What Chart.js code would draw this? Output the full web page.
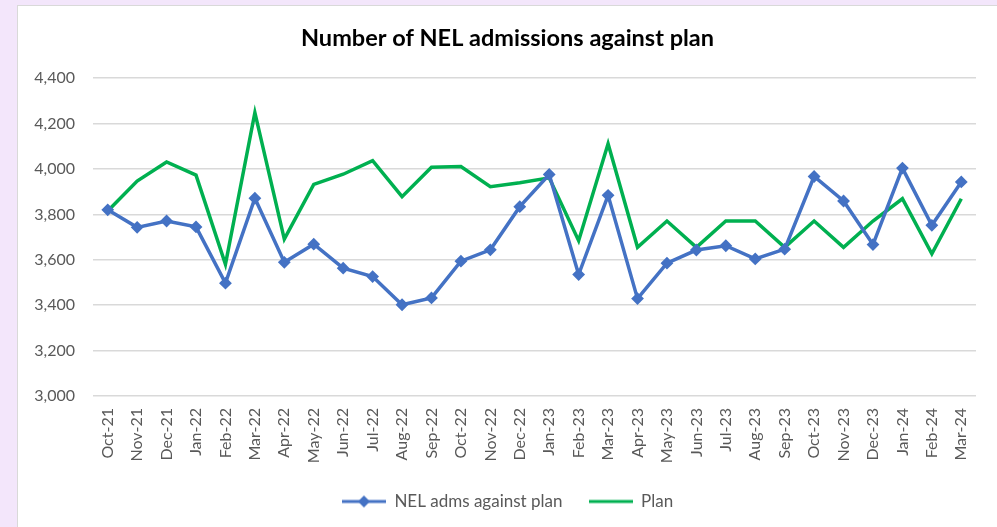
<!DOCTYPE html>
<html>
<head>
<meta charset="utf-8">
<script src="https://cdn.jsdelivr.net/npm/chart.js@4.4.0/dist/chart.umd.min.js"></script>
<style>
  html, body { margin: 0; padding: 0; background: #f3e6fb; }
  #frame {
    position: absolute; left: 17px; top: 5px;
    width: 980px; height: 522px;
    border-left: 1px solid #d9d9d9; border-top: 1px solid #d9d9d9;
    background: #fff;
  }
  #box { position: absolute; left: 0; top: 0; width: 979px; height: 521px; }
</style>
</head>
<body>
<div id="frame"><div id="box"><canvas id="grafik-nel"></canvas></div></div>
<script>
const months = ['Oct-21', 'Nov-21', 'Dec-21', 'Jan-22', 'Feb-22', 'Mar-22', 'Apr-22', 'May-22',
  'Jun-22', 'Jul-22', 'Aug-22', 'Sep-22', 'Oct-22', 'Nov-22', 'Dec-22', 'Jan-23', 'Feb-23',
  'Mar-23', 'Apr-23', 'May-23', 'Jun-23', 'Jul-23', 'Aug-23', 'Sep-23', 'Oct-23', 'Nov-23',
  'Dec-23', 'Jan-24', 'Feb-24', 'Mar-24'];

const nelAdms = [3820, 3743, 3771, 3745, 3497, 3871, 3589, 3669, 3563, 3526, 3402, 3432,
  3594, 3644, 3834, 3976, 3535, 3884, 3429, 3585, 3643, 3662, 3604, 3647, 3967, 3859,
  3667, 4004, 3752, 3943];

const plan = [3815, 3947, 4031, 3973, 3580, 4248, 3691, 3932, 3977, 4037, 3878, 4008,
  4011, 3922, 3939, 3961, 3684, 4111, 3655, 3771, 3655, 3771, 3771, 3655, 3771, 3655,
  3771, 3869, 3626, 3869];

const yTicks = [3000, 3200, 3400, 3600, 3800, 4000, 4200, 4400];

const blue = '#4472c4';
const green = '#00b050';
const grey = '#595959';
const fontFamily = 'Lato, "Open Sans", sans-serif';

// small legend swatches: line with diamond, plain line
function swatch(color, diamond) {
  const c = document.createElement('canvas');
  c.width = 44; c.height = 14;
  const g = c.getContext('2d');
  g.strokeStyle = color;
  g.lineWidth = 3;
  g.beginPath(); g.moveTo(0, 7); g.lineTo(44, 7); g.stroke();
  if (diamond) {
    g.fillStyle = color;
    g.beginPath();
    g.moveTo(22 - 6, 7); g.lineTo(22, 1); g.lineTo(22 + 6, 7); g.lineTo(22, 13);
    g.closePath(); g.fill();
  }
  return c;
}

const ctx = document.getElementById('grafik-nel');
new Chart(ctx, {
  type: 'line',
  data: {
    labels: months,
    datasets: [{
      label: 'NEL adms against plan',
      data: nelAdms,
      borderColor: blue,
      backgroundColor: blue,
      borderWidth: 3.5,
      pointStyle: 'rectRot',
      pointRadius: 5,
      pointBorderWidth: 2,
      pointHoverRadius: 5,
      tension: 0,
      order: 1
    }, {
      label: 'Plan',
      data: plan,
      borderColor: green,
      backgroundColor: green,
      borderWidth: 3.5,
      pointRadius: 0,
      pointHoverRadius: 0,
      tension: 0,
      order: 2
    }]
  },
  options: {
    responsive: true,
    maintainAspectRatio: false,
    animation: false,
    layout: { padding: { left: 0, right: 0, top: 0, bottom: 7 } },
    plugins: {
      title: {
        display: true,
        text: 'Number of NEL admissions against plan',
        color: '#000',
        font: { family: fontFamily, size: 23.5, weight: 'bold' },
        padding: { top: 18, bottom: 26 }
      },
      legend: {
        position: 'bottom',
        labels: {
          usePointStyle: true,
          pointStyleWidth: 44,
          padding: 26,
          color: grey,
          font: { family: fontFamily, size: 17 },
          generateLabels: function (chart) {
            return chart.data.datasets.map(function (ds, i) {
              return {
                text: ds.label,
                datasetIndex: i,
                fontColor: grey,
                pointStyle: swatch(ds.borderColor, i === 0),
                lineWidth: 0,
                strokeStyle: ds.borderColor,
                fillStyle: ds.borderColor
              };
            });
          }
        }
      },
      tooltip: { enabled: false }
    },
    scales: {
      x: {
        offset: true,
        grid: { display: false, drawTicks: false },
        border: { display: false },
        ticks: {
          autoSkip: false,
          maxRotation: 90,
          minRotation: 90,
          padding: 12,
          color: grey,
          font: { family: fontFamily, size: 16 }
        },
        afterFit: function (scale) { scale.height = 71; }
      },
      y: {
        min: 3000,
        max: 4400,
        afterBuildTicks: function (scale) {
          scale.ticks = yTicks.map(function (v) { return { value: v }; });
        },
        grid: { color: '#d9d9d9', lineWidth: 1.5, drawTicks: false },
        border: { display: false },
        ticks: {
          padding: 18,
          color: grey,
          font: { family: fontFamily, size: 16 },
          callback: function (v) { return v.toLocaleString('en-GB'); }
        },
        afterFit: function (scale) { scale.width = 75; }
      },
      // empty right-hand gutter so the plot stops short of the frame edge
      gutter: {
        position: 'right',
        display: true,
        grid: { display: false, drawTicks: false },
        border: { display: false },
        ticks: { display: false },
        afterFit: function (scale) { scale.width = 21; }
      }
    }
  }
});
</script>
</body>
</html>
